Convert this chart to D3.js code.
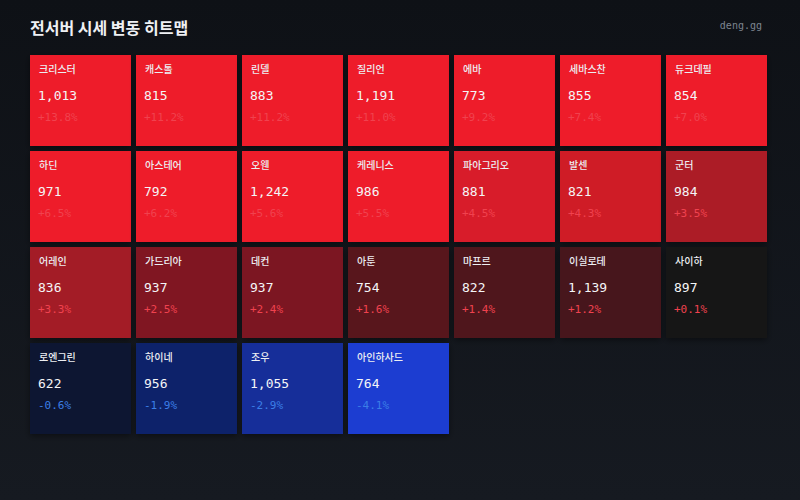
<!DOCTYPE html>
<html>
<head>
<meta charset="utf-8">
<script src="https://cdn.jsdelivr.net/npm/d3@7"></script>
<style>
  html, body { margin: 0; padding: 0; background: #111419; }
  svg { display: block; }
</style>
</head>
<body>
<svg width="800" height="500"></svg>
<script>
// server names, current price, % change
var servers = ['크리스터', '캐스톨', '린델', '질리언', '에바', '세바스찬', '듀크데필',
               '하딘', '아스테어', '오웬', '케레니스', '파아그리오', '발센', '군터',
               '어레인', '가드리아', '데컨', '아툰', '마프르', '이실로테', '사이하',
               '로엔그린', '하이네', '조우', '아인하사드'];
var prices = [1013, 815, 883, 1191, 773, 855, 854,
              971, 792, 1242, 986, 881, 821, 984,
              836, 937, 937, 754, 822, 1139, 897,
              622, 956, 1055, 764];
var changes = [13.8, 11.2, 11.2, 11.0, 9.2, 7.4, 7.0,
               6.5, 6.2, 5.6, 5.5, 4.5, 4.3, 3.5,
               3.3, 2.5, 2.4, 1.6, 1.4, 1.2, 0.1,
               -0.6, -1.9, -2.9, -4.1];

var cols = 7;
var data = servers.map(function(s, i) {
    return { name: s, price: prices[i], change: changes[i], col: i % cols, row: Math.floor(i / cols) };
});
var rows = Math.ceil(data.length / cols);

var svg = d3.select("svg"),
    width = +svg.attr("width"),
    height = +svg.attr("height");

// background
var defs = svg.append("defs");
var bg = defs.append("linearGradient").attr("id", "bg").attr("x1", 0).attr("y1", 0).attr("x2", 0).attr("y2", 1);
bg.append("stop").attr("offset", "0%").attr("stop-color", "#0e1116");
bg.append("stop").attr("offset", "100%").attr("stop-color", "#161a21");
defs.append("filter").attr("id", "shadow").attr("x", "-20%").attr("y", "-20%").attr("width", "140%").attr("height", "150%")
    .append("feDropShadow").attr("dx", 0).attr("dy", 2).attr("stdDeviation", 3)
    .attr("flood-color", "#000").attr("flood-opacity", 0.45);

svg.append("rect").attr("width", width).attr("height", height).attr("fill", "url(#bg)");

svg.append("text")
    .attr("x", 30).attr("y", 34)
    .attr("fill", "#eef0f3")
    .style("font-family", "'Noto Sans CJK KR', sans-serif")
    .style("font-size", "16px").style("font-weight", 700)
    .text("전서버 시세 변동 히트맵");

svg.append("text")
    .attr("x", 762).attr("y", 29)
    .attr("text-anchor", "end")
    .attr("fill", "#7d848f")
    .style("font-family", "'DejaVu Sans Mono', monospace")
    .style("font-size", "10px")
    .text("deng.gg");

var x = d3.scaleBand().domain(d3.range(cols)).range([30, 767]).paddingInner(5 / 106);
var y = d3.scaleBand().domain(d3.range(rows)).range([55, 434]).paddingInner(5 / 96);

// diverging colour: blue for drops, red for gains, capped at ±5%
var color = d3.scaleLinear()
    .domain([-5, 0, 0, 5])
    .range(["#1e49fa", "#080c14", "#121318", "#ee1f2b"])
    .clamp(true);

var cells = svg.selectAll(".cell")
    .data(data)
    .enter().append("g")
    .attr("class", "cell")
    .attr("transform", function(d) { return "translate(" + x(d.col) + "," + y(d.row) + ")"; });

cells.append("rect")
    .attr("width", x.bandwidth())
    .attr("height", y.bandwidth())
    .attr("fill", function(d) { return color(d.change); })
    .attr("filter", "url(#shadow)");

cells.append("text")
    .attr("x", 9).attr("y", 18)
    .attr("fill", "#eceef2")
    .style("font-family", "'Noto Sans CJK KR', sans-serif")
    .style("font-size", "10px").style("font-weight", 500)
    .text(function(d) { return d.name; });

cells.append("text")
    .attr("x", 8).attr("y", 45)
    .attr("fill", "#f4f5f7")
    .style("font-family", "'DejaVu Sans Mono', monospace")
    .style("font-size", "13px")
    .text(function(d) { return d3.format(",")(d.price); });

cells.append("text")
    .attr("x", 8).attr("y", 66)
    .attr("fill", function(d) { return d.change >= 0 ? "#f0424f" : "#3b7ee6"; })
    .style("font-family", "'DejaVu Sans Mono', monospace")
    .style("font-size", "11px")
    .text(function(d) { return (d.change >= 0 ? "+" : "") + d.change.toFixed(1) + "%"; });
</script>
</body>
</html>
